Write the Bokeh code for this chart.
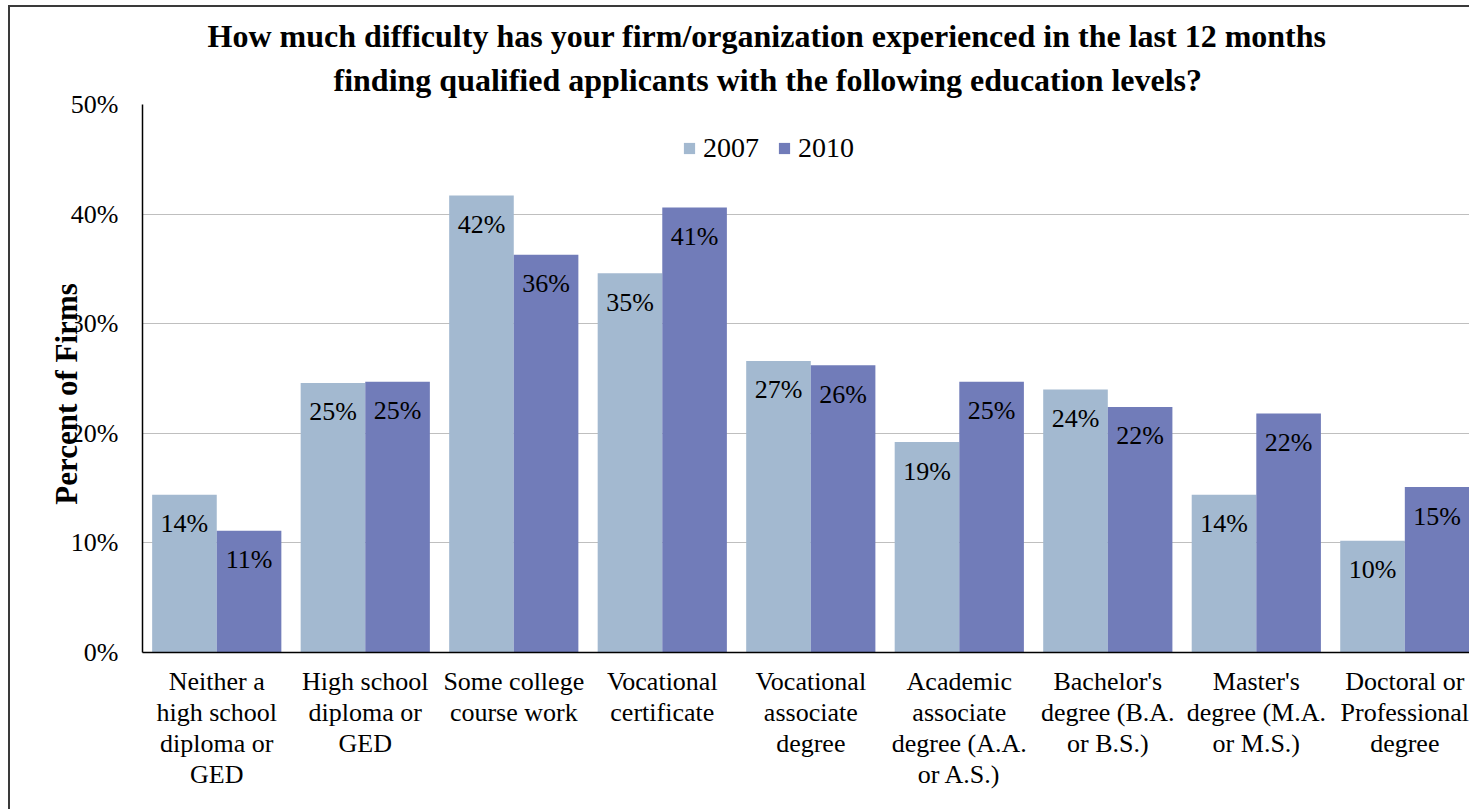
from bokeh.plotting import figure
from bokeh.models import (Range1d, FixedTicker, PrintfTickFormatter, Title,
                          Legend, LegendItem, ColumnDataSource)
from bokeh.core.properties import value
from bokeh.embed import file_html
from bokeh.resources import INLINE

# ---------------- data ----------------
categories = [
    "Neither a\nhigh school\ndiploma or\nGED",
    "High school\ndiploma or\nGED",
    "Some college\ncourse work",
    "Vocational\ncertificate",
    "Vocational\nassociate\ndegree",
    "Academic\nassociate\ndegree (A.A.\nor A.S.)",
    "Bachelor's\ndegree (B.A.\nor B.S.)",
    "Master's\ndegree (M.A.\nor M.S.)",
    "Doctoral or\nProfessional\ndegree",
]
series_names = ["2007", "2010"]
values_2007 = [14.4, 24.6, 41.7, 34.6, 26.6, 19.2, 24.0, 14.4, 10.2]
values_2010 = [11.1, 24.7, 36.3, 40.6, 26.2, 24.7, 22.4, 21.8, 15.1]
y_ticks = [0, 10, 20, 30, 40, 50]
title_lines = [
    "How much difficulty has your firm/organization experienced in the last 12 months",
    "finding qualified applicants with the following education levels?",
]
y_title = "Percent of Firms"

# ---------------- style ----------------
SERIF = "Liberation Serif"
C2007 = "#A3B9D0"
C2010 = "#717CB9"
BAR_W = 0.435

n = len(categories)
idx = list(range(n))
x07 = [i + 0.5 - BAR_W / 2 for i in idx]
x10 = [i + 0.5 + BAR_W / 2 for i in idx]

src07 = ColumnDataSource(dict(x=x07, top=values_2007,
                              lab=[f"{v:.0f}%" for v in values_2007]))
src10 = ColumnDataSource(dict(x=x10, top=values_2010,
                              lab=[f"{v:.0f}%" for v in values_2010]))

p = figure(width=1461, height=804, output_backend="svg", toolbar_location=None,
           x_range=Range1d(0, 8.949), y_range=Range1d(0, 50),
           min_border_left=132, min_border_top=97, min_border_bottom=159,
           min_border_right=0)
p.title.visible = False
p.outline_line_color = None
p.background_fill_color = "white"
p.border_fill_color = "white"
p.styles = {"margin-left": "8px", "margin-top": "5px",
            "border-top": "2px solid #3a3a3a", "border-left": "2px solid #3a3a3a"}

r07 = p.vbar(x="x", top="top", bottom=0, width=BAR_W, source=src07,
             fill_color=C2007, line_color=None)
r10 = p.vbar(x="x", top="top", bottom=0, width=BAR_W, source=src10,
             fill_color=C2010, line_color=None)

for s in (src07, src10):
    p.text(x="x", y="top", text="lab", source=s, text_align="center",
           text_baseline="middle", y_offset=29, text_font=value(SERIF),
           text_font_size="26px", text_color="black")

# grid
p.xgrid.visible = False
p.ygrid.ticker = FixedTicker(ticks=y_ticks)
p.ygrid.grid_line_color = "#BFBFBF"
p.ygrid.grid_line_width = 1

# y axis
p.yaxis.ticker = FixedTicker(ticks=y_ticks)
p.yaxis.formatter = PrintfTickFormatter(format="%d%%")
p.yaxis.major_tick_line_color = None
p.yaxis.minor_tick_line_color = None
p.yaxis.major_tick_out = 0
p.yaxis.major_label_standoff = 24
p.yaxis.major_label_text_font = SERIF
p.yaxis.major_label_text_font_size = "26px"
p.yaxis.major_label_text_color = "black"
p.yaxis.axis_line_color = "black"
p.yaxis.axis_line_width = 1.5
p.yaxis.axis_label = y_title + "\u00a0" * 4
p.yaxis.axis_label_standoff = -16
p.yaxis.axis_label_text_font = SERIF
p.yaxis.axis_label_text_font_style = "bold"
p.yaxis.axis_label_text_font_size = "31px"
p.yaxis.axis_label_text_color = "black"

# x axis
tick_pos = [i + 0.5 for i in idx]
p.xaxis.ticker = FixedTicker(ticks=tick_pos)
p.xaxis.major_label_overrides = {t: c for t, c in zip(tick_pos, categories)}
p.xaxis.major_tick_line_color = None
p.xaxis.minor_tick_line_color = None
p.xaxis.major_tick_out = 0
p.xaxis.major_label_standoff = 14
p.xaxis.major_label_text_font = SERIF
p.xaxis.major_label_text_font_size = "26px"
p.xaxis.major_label_text_line_height = 1.08
p.xaxis.major_label_text_color = "black"
p.xaxis.axis_line_color = "black"
p.xaxis.axis_line_width = 1.5

# title: two lines, first added is closest to the frame
p.add_layout(Title(text=title_lines[1], align="left", offset=191, standoff=13,
                   text_line_height=0.95,
                   text_font=SERIF, text_font_style="bold",
                   text_font_size="32px", text_color="black"), "above")
p.add_layout(Title(text=title_lines[0], align="left", offset=65, standoff=0,
                   text_font=SERIF, text_font_style="bold",
                   text_font_size="32px", text_color="black"), "above")

legend = Legend(items=[LegendItem(label=series_names[0], renderers=[r07]),
                       LegendItem(label=series_names[1], renderers=[r10])],
                location=(540, 488), orientation="horizontal",
                background_fill_alpha=0, border_line_color=None,
                padding=0, margin=0, glyph_width=14, glyph_height=14,
                label_standoff=7, spacing=18,
                label_text_font=SERIF, label_text_font_size="28px",
                label_text_color="black")
p.add_layout(legend)

open("out.html", "w").write(file_html(p, INLINE))
